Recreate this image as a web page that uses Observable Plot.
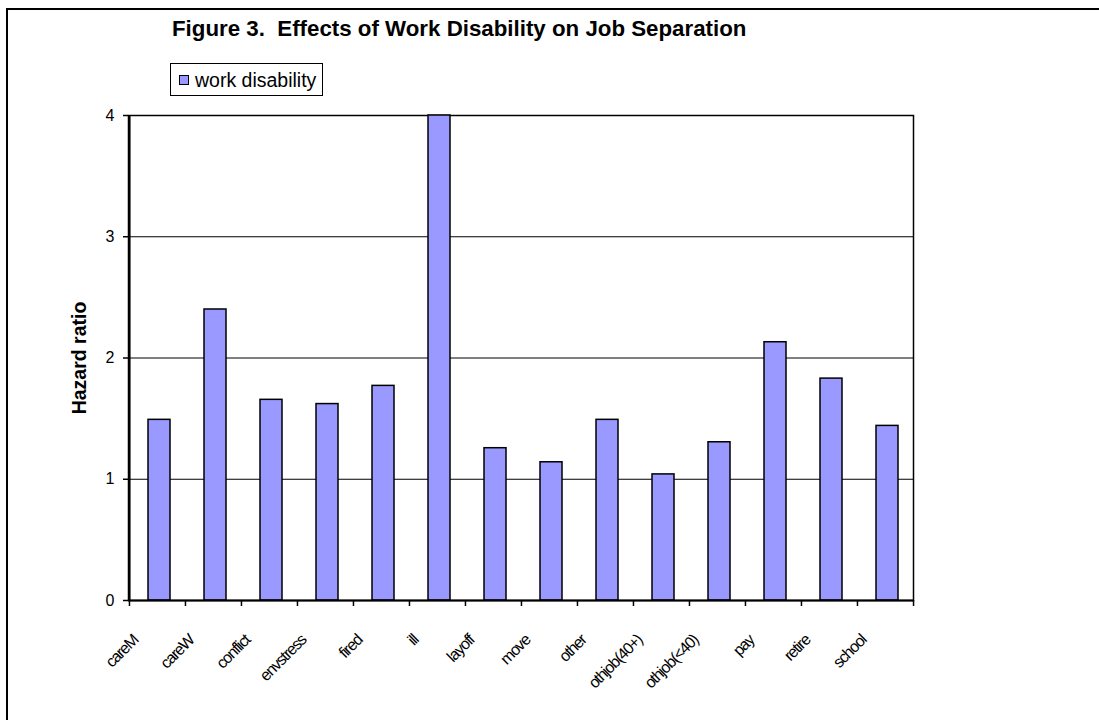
<!DOCTYPE html>
<html>
<head>
<meta charset="utf-8">
<script src="https://cdn.jsdelivr.net/npm/d3@7"></script>
<script src="https://cdn.jsdelivr.net/npm/@observablehq/plot@0.6"></script>
<style>
  body { margin: 0; background: #fff; font-family: Arial, "Liberation Sans", sans-serif; }
  #wrap { position: relative; width: 1099px; height: 720px; overflow: hidden; background: #fff; }
  #outer { position: absolute; left: 6px; top: 8px; width: 1300px; height: 900px; border-top: 2px solid #000; border-left: 2px solid #000; }
  #title { position: absolute; left: 172px; top: 18.2px; font-weight: bold; font-size: 22.3px; line-height: 1; white-space: pre; color: #000; }
  #legend { position: absolute; left: 170px; top: 63px; width: 151px; height: 31px; border: 1.5px solid #000; background: #fff; }
  #swatch { position: absolute; left: 8px; top: 11px; width: 8px; height: 8px; background: #9999FF; border: 1.2px solid #000; }
  #legtext { position: absolute; left: 24px; top: 7px; font-size: 19.5px; line-height: 1; white-space: nowrap; color: #000; }
  #chart { position: absolute; left: 0; top: 0; }
</style>
</head>
<body>
<div id="wrap">
  <div id="outer"></div>
  <div id="chart"></div>
  <div id="title"></div>
  <div id="legend"><div id="swatch"></div><div id="legtext"></div></div>
</div>
<script>
const titleText = "Figure 3.  Effects of Work Disability on Job Separation";
const seriesName = "work disability";
const yLabel = "Hazard ratio";
const categories = ["careM", "careW", "conflict", "envstress", "fired", "ill", "layoff", "move", "other", "othjob(40+)", "othjob(<40)", "pay", "retire", "school"];
const hazardRatios = [1.49, 2.40, 1.655, 1.62, 1.77, 4.0, 1.256, 1.14, 1.49, 1.04, 1.305, 2.13, 1.83, 1.44];
const yTicks = [0, 1, 2, 3, 4];
const gridValues = [1, 2, 3];

document.getElementById("title").textContent = titleText;
document.getElementById("legtext").textContent = seriesName;

const data = categories.map((c, i) => ({category: c, value: hazardRatios[i]}));
const half = (1099 - 128 - 186) / categories.length / 2;

const chart = Plot.plot({
  width: 1099,
  height: 720,
  marginLeft: 128,
  marginRight: 186,
  marginTop: 115,
  marginBottom: 120,
  style: {fontFamily: "Arial, 'Liberation Sans', sans-serif", fontSize: "16px", background: "transparent", color: "#000", overflow: "visible"},
  x: {type: "band", domain: categories, padding: 0},
  y: {domain: [0, 4]},
  marks: [
    Plot.ruleY(gridValues, {stroke: "#000", strokeWidth: 1}),
    Plot.frame({stroke: "#000", strokeWidth: 1.5}),
    Plot.barY(data, {x: "category", y: "value", fill: "#9999FF", stroke: "#000", strokeWidth: 1.5, insetLeft: 19, insetRight: 15}),
    Plot.ruleY([0], {stroke: "#000", strokeWidth: 2.2}),
    Plot.ruleX([categories[0]], {y1: 0, y2: 4, dx: -half, stroke: "#000", strokeWidth: 2.2}),
    Plot.axisX({tickSize: 6, tickFormat: () => "", dx: -half, stroke: "#000", strokeWidth: 1.5, label: null}),
    Plot.axisX({ticks: [categories[categories.length - 1]], tickSize: 6, tickFormat: () => "", dx: half, stroke: "#000", strokeWidth: 1.5, label: null}),
    Plot.axisY({ticks: yTicks, tickFormat: d3.format("d"), tickSize: 5, tickPadding: 9, fontSize: 16, stroke: "#000", strokeWidth: 1.5, label: null, fill: "#000"}),
    Plot.text(categories, {x: d => d, frameAnchor: "bottom", rotate: -45, textAnchor: "end", lineAnchor: "middle", dx: -22, dy: 37, fontSize: 16, fill: "#000"}),
    Plot.text([yLabel], {frameAnchor: "left", rotate: -90, textAnchor: "middle", lineAnchor: "bottom", dx: -43, fontSize: 19.5, fontWeight: "bold", fill: "#000"})
  ]
});

const groups = chart.querySelectorAll('g[aria-label="text"]');
if (groups.length) groups[0].setAttribute("letter-spacing", "-1.2");
chart.querySelectorAll('g[aria-label="y-axis tick label"]').forEach(g => {
  g.setAttribute("font-size", "16");
  g.style.fontSize = "16px";
  g.querySelectorAll("text").forEach(t => { t.style.fontSize = "16px"; });
});
document.getElementById("chart").appendChild(chart);
</script>
</body>
</html>
